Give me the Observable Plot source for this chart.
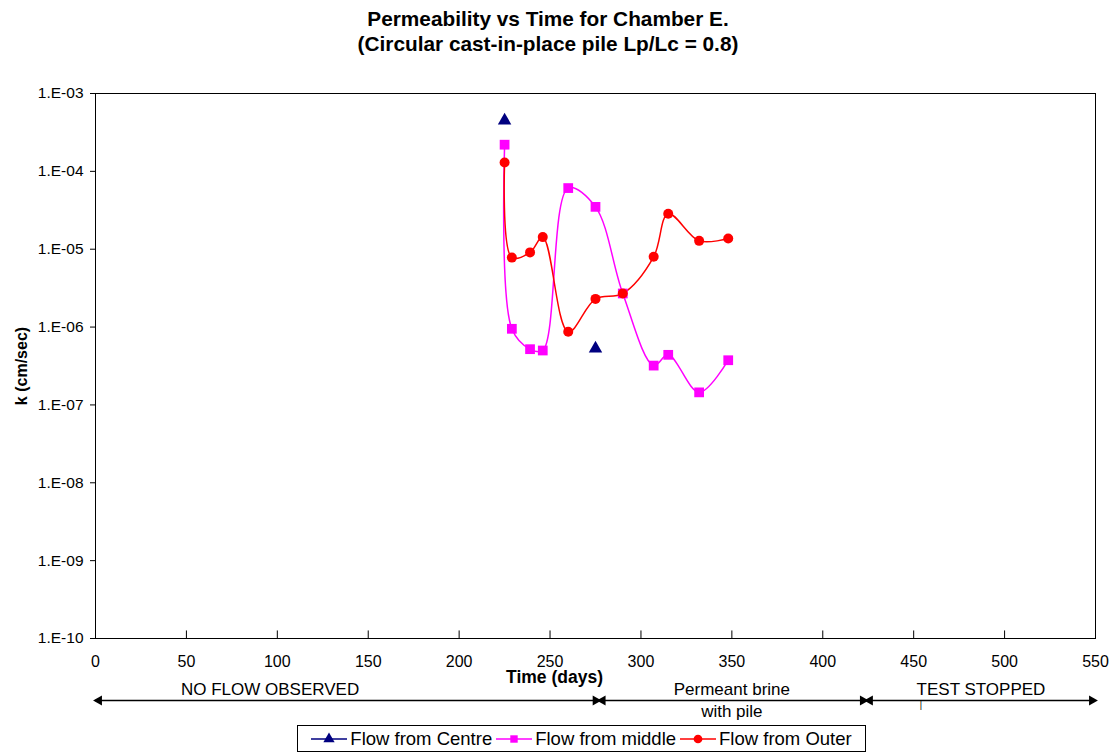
<!DOCTYPE html>
<html>
<head>
<meta charset="utf-8">
<script src="https://cdn.jsdelivr.net/npm/d3@7"></script>
<script src="https://cdn.jsdelivr.net/npm/@observablehq/plot@0.6"></script>
<style>
  html, body { margin: 0; padding: 0; background: #fff; }
  #wrap { position: relative; width: 1117px; height: 753px; font-family: "Liberation Sans", Arial, sans-serif; }
  #title { position: absolute; left: 0; top: 6px; width: 1096px; text-align: center; font-weight: bold; font-size: 20.8px; line-height: 25px; color: #000; }
  #chart { position: absolute; left: 0; top: 60px; }
  #chart svg { overflow: visible; }
  #chart [aria-label="y-axis label"] text { font-weight: bold; font-size: 16px; }
  #legend { position: absolute; left: 297px; top: 725px; width: 567px; height: 25px; border: 1px solid #000; display: flex; align-items: center; justify-content: center; gap: 4px; font-size: 18.5px; color: #000; white-space: nowrap; }
  #legend .item { display: flex; align-items: center; gap: 3px; }
</style>
</head>
<body>
<div id="wrap">
  <div id="title">Permeability vs Time for Chamber E.<br>(Circular cast-in-place pile Lp/Lc = 0.8)</div>
  <div id="chart"></div>
  <div id="legend"></div>
</div>
<script>
// ---- data ----
const centreDays = [225, 275];
const centreK = [4.5e-4, 5.3e-7];

const days = [225, 229, 239, 246, 260, 275, 290, 307, 315, 332, 348];
const middleK = [2.2e-4, 9.5e-7, 5.2e-7, 5.0e-7, 6.1e-5, 3.5e-5, 2.7e-6, 3.2e-7, 4.4e-7, 1.45e-7, 3.75e-7];
const outerK = [1.3e-4, 7.8e-6, 9.1e-6, 1.43e-5, 8.7e-7, 2.3e-6, 2.7e-6, 8.0e-6, 2.85e-5, 1.28e-5, 1.37e-5];

const xTicks = [0, 50, 100, 150, 200, 250, 300, 350, 400, 450, 500, 550];
const yTicks = [1e-3, 1e-4, 1e-5, 1e-6, 1e-7, 1e-8, 1e-9, 1e-10];
const yTickLabels = ["1.E-03", "1.E-04", "1.E-05", "1.E-06", "1.E-07", "1.E-08", "1.E-09", "1.E-10"];

const phaseLabels = ["NO FLOW OBSERVED", "Permeant brine\nwith pile", "TEST STOPPED"];
const phaseStart = [0, 277, 424];
const phaseEnd = [277, 424, 550];
const phaseLabelAt = [96, 350, 487];
const stray = [454];

const seriesNames = ["Flow from Centre", "Flow from middle", "Flow from Outer"];
const seriesColors = ["#000080", "#FF00FF", "#FF0000"];
const seriesSymbols = ["triangle", "square", "circle"];

// ---- tables ----
const centre = centreDays.map((d, i) => ({day: d, k: centreK[i]}));
const middle = days.map((d, i) => ({day: d, k: middleK[i]}));
const outer = days.map((d, i) => ({day: d, k: outerK[i]}));
const phases = phaseLabels.map((l, i) => ({label: l, start: phaseStart[i], end: phaseEnd[i], at: phaseLabelAt[i]}));
const yFmt = new Map(yTicks.map((t, i) => [t, yTickLabels[i]]));

const chart = Plot.plot({
  width: 1117,
  height: 658,
  marginLeft: 95,
  marginRight: 22,
  marginTop: 33,
  marginBottom: 80,
  style: {fontFamily: '"Liberation Sans", Arial, sans-serif', fontSize: "15px", color: "#000", background: "#fff"},
  x: {domain: [0, 550]},
  y: {type: "log", domain: [1e-10, 1e-3]},
  marks: [
    Plot.frame({stroke: "#000", strokeWidth: 1}),
    Plot.axisY({ticks: yTicks, tickFormat: d => yFmt.get(d), tickSize: 5, tickPadding: 7, fontSize: 15.5,
      label: "k (cm/sec)", labelAnchor: "center", labelArrow: "none", labelOffset: 80}),
    Plot.axisX({ticks: xTicks, tickSize: 0, tickPadding: 17, fontSize: 16, label: null}),
    Plot.ruleX(xTicks, {x: d => d, y1: 1e-10, y2: 1.25e-10, stroke: "#000"}),
    Plot.text(["Time (days)"], {frameAnchor: "bottom", dx: -41, dy: 44, fontWeight: "bold", fontSize: 17.5}),
    // phase annotations
    Plot.ruleY(phases, {y: () => 1e-10, x1: "start", x2: "end", dy: 62, stroke: "#000", strokeWidth: 1.5}),
    Plot.dot(phases, {x: "start", y: () => 1e-10, dy: 62, dx: 3.5, symbol: "triangle", rotate: -90, r: 3.8, fill: "#000", stroke: "none"}),
    Plot.dot(phases, {x: "end", y: () => 1e-10, dy: 62, dx: -3.5, symbol: "triangle", rotate: 90, r: 3.8, fill: "#000", stroke: "none"}),
    Plot.text(phases, {x: "at", y: () => 1e-10, text: "label", dy: 41, lineAnchor: "top", lineHeight: 1.3, fontSize: 17}),
    Plot.text(stray, {x: d => d, y: () => 1e-10, text: () => "|", dy: 67, fontSize: 9, fill: "#000"}),
    // series
    Plot.line(middle, {x: "day", y: "k", stroke: seriesColors[1], strokeWidth: 1.5, curve: "catmull-rom"}),
    Plot.line(outer, {x: "day", y: "k", stroke: seriesColors[2], strokeWidth: 1.5, curve: "catmull-rom"}),
    Plot.dot(middle, {x: "day", y: "k", symbol: "square", r: 5.5, fill: seriesColors[1], stroke: "none"}),
    Plot.dot(outer, {x: "day", y: "k", symbol: "circle", r: 5, fill: seriesColors[2], stroke: "none"}),
    Plot.dot(centre, {x: "day", y: "k", symbol: "triangle", r: 5, fill: seriesColors[0], stroke: "none"})
  ]
});
document.getElementById("chart").appendChild(chart);

// ---- legend ----
const legend = document.getElementById("legend");
seriesNames.forEach((name, i) => {
  const item = document.createElement("div");
  item.className = "item";
  const sym = d3.symbol(seriesSymbols[i] === "triangle" ? d3.symbolTriangle : seriesSymbols[i] === "square" ? d3.symbolSquare : d3.symbolCircle,
    seriesSymbols[i] === "circle" ? 60 : 55)();
  item.innerHTML = `<svg width="36" height="14" viewBox="0 0 36 14"><line x1="0" x2="36" y1="7" y2="7" stroke="${seriesColors[i]}" stroke-width="1.5"/><path transform="translate(18,7)" d="${sym}" fill="${seriesColors[i]}"/></svg><span>${name}</span>`;
  legend.appendChild(item);
});
</script>
</body>
</html>
